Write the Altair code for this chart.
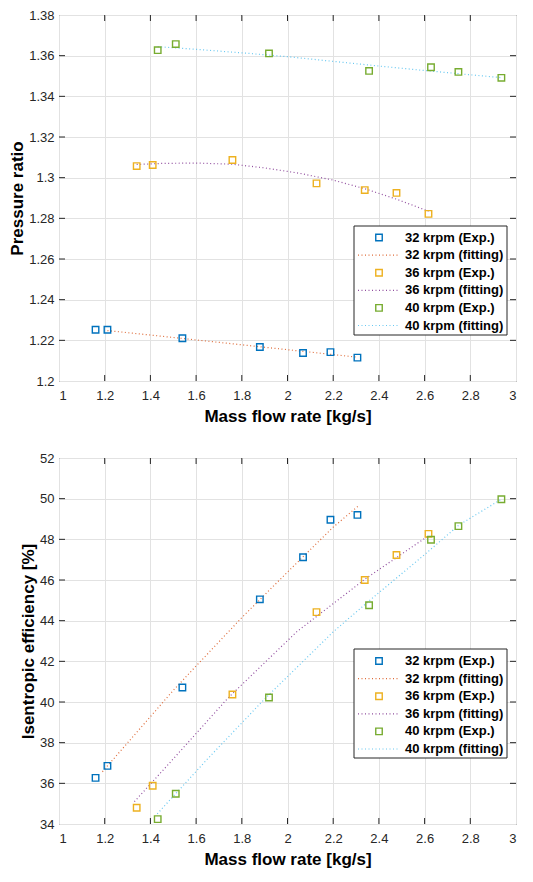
import altair as alt
import pandas as pd

FONT = "Liberation Sans"
TXT = "#262626"

# ---------------- tick values ----------------
X_TICKS = [1.0, 1.2, 1.4, 1.6, 1.8, 2.0, 2.2, 2.4, 2.6, 2.8, 3.0]
PR_TICKS = [1.20, 1.22, 1.24, 1.26, 1.28, 1.30, 1.32, 1.34, 1.36, 1.38]
EFF_TICKS = [34, 36, 38, 40, 42, 44, 46, 48, 50, 52]

# ---------------- series names / colours ----------------
LEGEND = ["32 krpm (Exp.)", "32 krpm (fitting)",
          "36 krpm (Exp.)", "36 krpm (fitting)",
          "40 krpm (Exp.)", "40 krpm (fitting)"]
COLORS = ["#0072BD", "#D95319", "#EDB120", "#7E2F8E", "#77AC30", "#4DBEEE"]

# ---------------- experimental mass flow rates ----------------
mfr_32 = [1.160, 1.212, 1.540, 1.879, 2.068, 2.188, 2.306]
mfr_36 = [1.340, 1.410, 1.759, 2.127, 2.338, 2.477, 2.617]
mfr_40 = [1.432, 1.511, 1.919, 2.357, 2.628, 2.748, 2.936]

# ---------------- pressure ratio (exp.) ----------------
pr_32 = [1.2252, 1.2252, 1.2210, 1.2167, 1.2138, 1.2142, 1.2115]
pr_36 = [1.3057, 1.3062, 1.3087, 1.2972, 1.2939, 1.2925, 1.2822]
pr_40 = [1.3627, 1.3657, 1.3611, 1.3525, 1.3543, 1.3520, 1.3491]

# ---------------- pressure ratio (fitting) ----------------
pr_fit_32_x = [1.212, 1.4, 1.6, 1.8, 2.0, 2.2, 2.306]
pr_fit_32_y = [1.2248, 1.2226, 1.2202, 1.2178, 1.2154, 1.2130, 1.2117]
pr_fit_36_x = [1.34, 1.45, 1.6, 1.76, 1.9, 2.05, 2.2, 2.34, 2.48, 2.617]
pr_fit_36_y = [1.3065, 1.3070, 1.3072, 1.3066, 1.3048, 1.3022, 1.2988, 1.2945, 1.2893, 1.2835]
pr_fit_40_x = [1.432, 1.6, 1.8, 2.0, 2.2, 2.4, 2.6, 2.8, 2.936]
pr_fit_40_y = [1.3644, 1.3631, 1.3614, 1.3595, 1.3572, 1.3549, 1.3527, 1.3506, 1.3492]

# ---------------- isentropic efficiency (exp.) ----------------
eff_32 = [36.27, 36.86, 40.71, 45.05, 47.12, 48.96, 49.20]
eff_36 = [34.80, 35.88, 40.37, 44.42, 46.00, 47.23, 48.27]
eff_40 = [34.24, 35.49, 40.22, 44.76, 47.98, 48.65, 49.97]

# ---------------- isentropic efficiency (fitting) ----------------
eff_fit_32_x = [1.19, 1.3, 1.4, 1.5, 1.6, 1.8, 2.0, 2.2, 2.31]
eff_fit_32_y = [36.57, 37.99, 39.28, 40.57, 41.77, 44.15, 46.39, 48.60, 49.64]
eff_fit_36_x = [1.33, 1.5, 1.74, 2.04, 2.34, 2.62]
eff_fit_36_y = [35.10, 37.20, 40.20, 43.45, 46.05, 48.20]
eff_fit_40_x = [1.43, 1.65, 1.9, 2.2, 2.36, 2.6, 2.75, 2.94]
eff_fit_40_y = [34.50, 37.20, 40.15, 43.45, 45.00, 47.25, 48.70, 50.00]

W = 457


def exp_frame(ys):
    rows = []
    for xs, yv, name in zip([mfr_32, mfr_36, mfr_40], ys, LEGEND[0::2]):
        rows += [{"x": a, "y": b, "series": name} for a, b in zip(xs, yv)]
    return pd.DataFrame(rows)


def fit_frame(pairs):
    rows = []
    for (xs, yv), name in zip(pairs, LEGEND[1::2]):
        rows += [{"x": a, "y": b, "series": name} for a, b in zip(xs, yv)]
    return pd.DataFrame(rows)


def panel(exp_df, fit_df, y_title, y_dom, y_ticks, H, box_y, row_y):
    color = alt.Color("series:N", scale=alt.Scale(domain=LEGEND, range=COLORS), legend=None)
    xenc = alt.X("x:Q", scale=alt.Scale(domain=[1, 3], nice=False, zero=False),
                 axis=alt.Axis(values=X_TICKS, format="~g", title="Mass flow rate [kg/s]"))
    yenc = alt.Y("y:Q", scale=alt.Scale(domain=y_dom, nice=False, zero=False),
                 axis=alt.Axis(values=y_ticks, format="~g", title=y_title))

    lines = alt.Chart(fit_df).mark_line(strokeDash=[1, 2.5], strokeWidth=1.2, opacity=0.85).encode(
        x=xenc, y=yenc, color=color)
    pts = alt.Chart(exp_df).mark_point(shape="square", filled=False, size=42, strokeWidth=1.4,
                                       opacity=1).encode(x=xenc, y=yenc, color=color)

    xt = pd.DataFrame({"x": X_TICKS[1:-1]})
    yt = pd.DataFrame({"y": y_ticks[1:-1]})
    tx_top = alt.Chart(xt).mark_rule(color=TXT).encode(x=xenc, y=alt.value(0), y2=alt.value(6))
    tx_bot = alt.Chart(xt).mark_rule(color=TXT).encode(x=xenc, y=alt.value(H - 6), y2=alt.value(H))
    ty_l = alt.Chart(yt).mark_rule(color=TXT).encode(y=yenc, x=alt.value(0), x2=alt.value(6))
    ty_r = alt.Chart(yt).mark_rule(color=TXT).encode(y=yenc, x=alt.value(W - 6), x2=alt.value(W))

    main = alt.layer(lines, pts, tx_top, tx_bot, ty_l, ty_r)

    leg_df = pd.DataFrame({"series": LEGEND,
                           "kind": ["exp", "fit"] * 3})
    ly = alt.Y("series:N", scale=alt.Scale(type="point", domain=LEGEND, range=row_y, padding=0),
               axis=None)
    box = alt.Chart(pd.DataFrame({"a": [0]})).mark_rect(
        fill="white", stroke=TXT, strokeWidth=1).encode(
        x=alt.value(W - 162), x2=alt.value(W - 9), y=alt.value(box_y[0]), y2=alt.value(box_y[1]))
    lsym = alt.Chart(leg_df).transform_filter(alt.datum.kind == "exp").mark_point(
        shape="square", filled=False, size=42, strokeWidth=1.4, opacity=1).encode(
        x=alt.value(W - 137), y=ly, color=color)
    lline = alt.Chart(leg_df).transform_filter(alt.datum.kind == "fit").mark_rule(
        strokeDash=[1, 2.5], strokeWidth=1.2, opacity=0.85).encode(
        x=alt.value(W - 158), x2=alt.value(W - 117), y=ly, color=color)
    ltxt = alt.Chart(leg_df).mark_text(
        align="left", baseline="middle", font=FONT, fontSize=13, fontWeight="bold",
        color="black").encode(x=alt.value(W - 111), y=ly, text="series:N")
    legend = alt.layer(box, lsym, lline, ltxt)

    return alt.layer(main, legend).resolve_scale(x="independent", y="independent").properties(
        width=W, height=H)


top = panel(exp_frame([pr_32, pr_36, pr_40]),
            fit_frame([(pr_fit_32_x, pr_fit_32_y), (pr_fit_36_x, pr_fit_36_y),
                       (pr_fit_40_x, pr_fit_40_y)]),
            "Pressure ratio", [1.2, 1.38], PR_TICKS, 366, [211, 320], [222.5, 310.5])
bottom = panel(exp_frame([eff_32, eff_36, eff_40]),
               fit_frame([(eff_fit_32_x, eff_fit_32_y), (eff_fit_36_x, eff_fit_36_y),
                          (eff_fit_40_x, eff_fit_40_y)]),
               "Isentropic efficiency [%]", [34, 52], EFF_TICKS, 366, [191, 300], [203, 291])

chart = alt.vconcat(top, bottom, spacing=26).properties(
    padding={"left": 0, "top": 0, "right": 0, "bottom": 0}
).configure_view(stroke=TXT, strokeWidth=1).configure_axis(
    labelFont=FONT, labelFontSize=13, labelColor=TXT,
    titleFont=FONT, titleFontSize=17, titleFontWeight="bold", titleColor="black",
    grid=True, gridColor="#e2e2e2", gridWidth=1,
    domain=False, ticks=False, labelPadding=8, titlePadding=6
).configure_axisY(titlePadding=2, labelPadding=5)

chart.save("out.html", embed_options={"renderer": "svg", "actions": False})
